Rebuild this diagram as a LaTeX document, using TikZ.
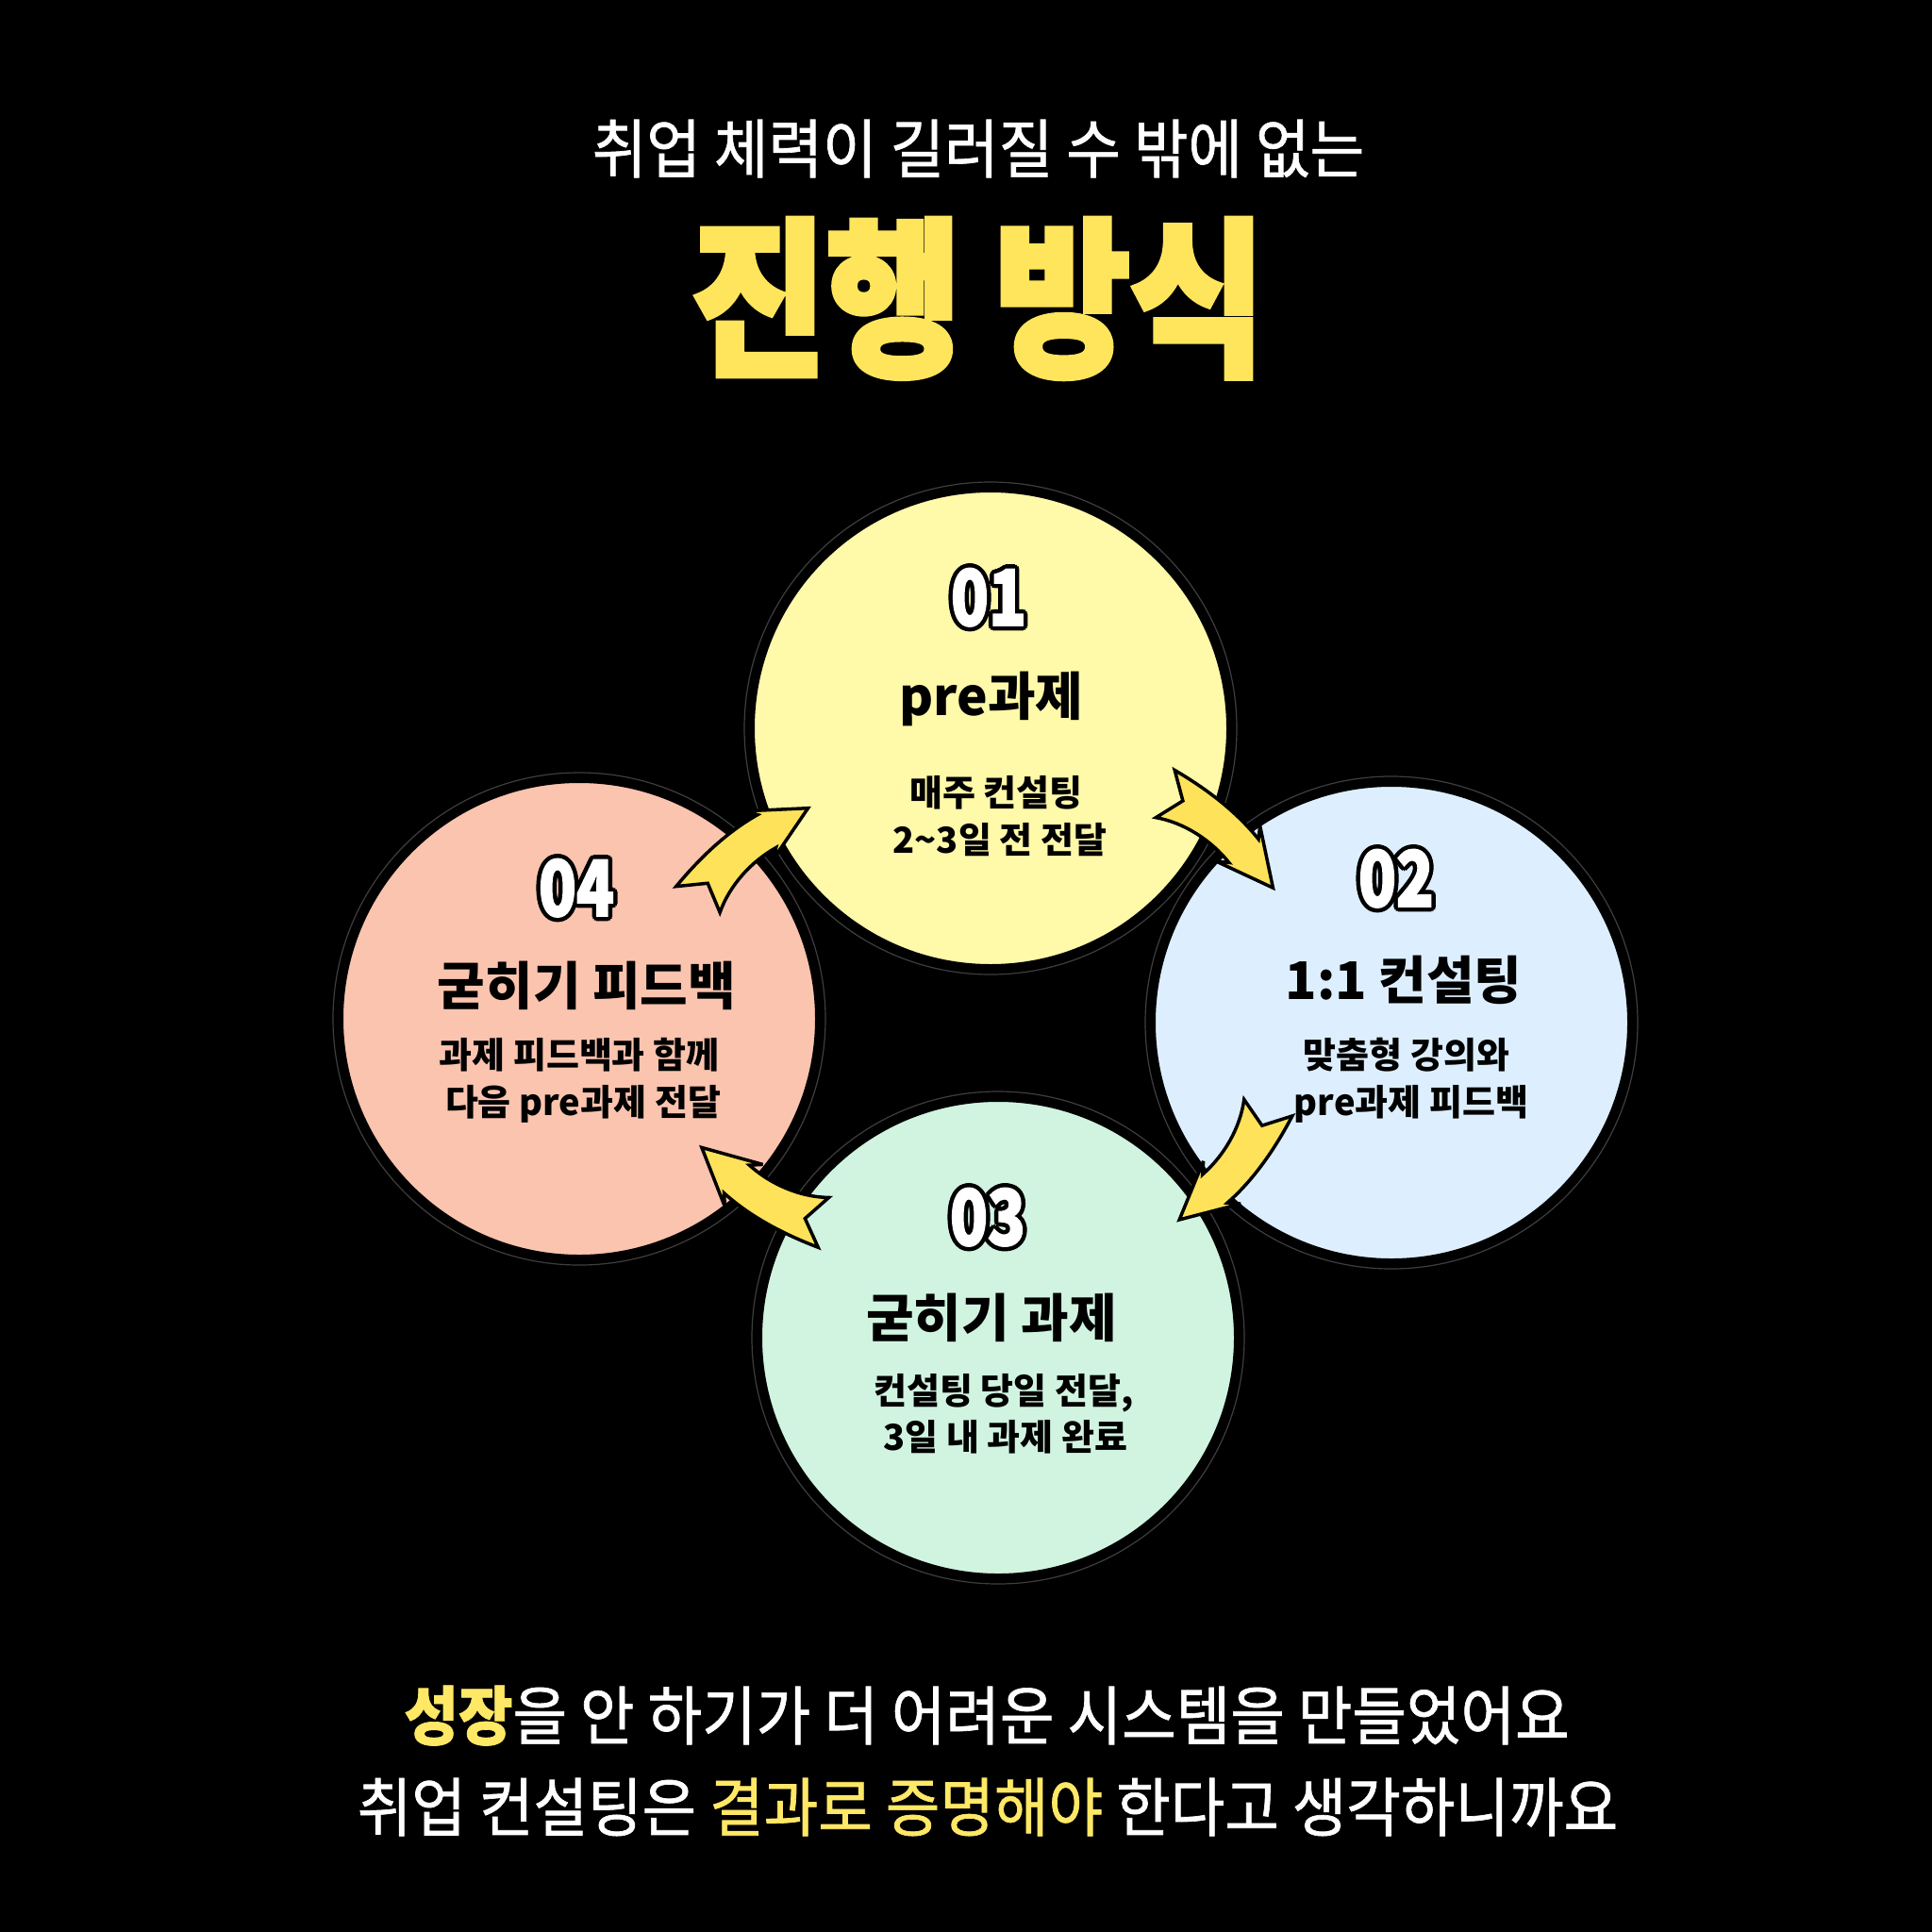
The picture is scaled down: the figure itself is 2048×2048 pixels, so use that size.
\documentclass[tikz,border=0pt]{standalone}
\usepackage{fontspec}
\usetikzlibrary{calc}
\newfontfamily\krreg{Noto Sans CJK KR}[FakeStretch=0.92, FakeBold=1]
\newfontfamily\krb{Noto Sans CJK KR}
\newfontfamily\krtitle{Noto Sans CJK KR}[FakeStretch=0.86, BoldFeatures={FakeBold=3}]
\newfontfamily\krnum{Noto Sans CJK KR}[FakeStretch=0.8, BoldFeatures={FakeBold=2}]
\definecolor{titley}{HTML}{FFE55C}
\definecolor{hly}{HTML}{FFE866}
\definecolor{arrowy}{HTML}{FDE25A}
\definecolor{cyel}{HTML}{FFF9AA}
\definecolor{cblu}{HTML}{DDEFFE}
\definecolor{cgrn}{HTML}{D1F4E1}
\definecolor{cpnk}{HTML}{FBC4AF}
\definecolor{ringgray}{RGB}{62,62,62}
\tikzset{
  circ/.style={circle, draw=black, line width=10, minimum size=510, inner sep=0},
  head/.style={anchor=base, inner sep=0, text=black, font=\krb\bfseries\fontsize{55}{66}\selectfont},
  body/.style={anchor=base, inner sep=0, text=black, font=\krb\bfseries\fontsize{38}{50}\selectfont},
  numsty/.style={anchor=base, inner sep=0, font=\krnum\bfseries\fontsize{82}{90}\selectfont},
  line/.style={anchor=base, inner sep=0, text=white, font=\krreg\fontsize{68}{80}\selectfont},
  arrowsty/.style={fill=arrowy, draw=black, line width=3.5, line join=miter, miter limit=6}
}
\newcommand\outnum[4]{%
  \foreach \a in {0,30,...,330}{\node[numsty, text=black] (#1o\a) at ($(#2,#3)+(\a:4.5)$) {#4};}
  \node[numsty, text=white] (#1) at (#2,#3) {#4};}
\newcommand\cyclearrow[4]{%
  \begin{scope}[shift={(#2,#3)}, rotate=#4]
    \coordinate (#1) at (0,0);
    \filldraw[arrowsty] (-4,-27) -- (16,0) -- (-4,27)
      .. controls (26,21) and (59.5,27.9) .. (85.5,42.9)
      -- (71.8,46.6) -- (138.8,50.6) -- (101.8,-5.4) -- (105.5,8.3)
      .. controls (73.4,-10.2) and (35,-21) .. (-4,-27) -- cycle;
  \end{scope}}
\begin{document}
\begin{tikzpicture}[x=1pt,y=-1pt]
\useasboundingbox (0,0) rectangle (2048,2048);
\fill[black] (0,0) rectangle (2048,2048);

% headings
\node[line] (sub) at (1037,183) {취업 체력이 길러질 수 밖에 없는};
\node[anchor=base, inner sep=0, text=titley, font=\krtitle\bfseries\fontsize{181}{200}\selectfont] (title) at (1037,384) {진행 방식};

% circles
\node[circ, fill=cyel] (c1) at (1050,772) {};
\node[circ, fill=cblu] (c2) at (1475,1084) {};
\node[circ, fill=cgrn] (c3) at (1058,1418) {};
\node[circ, fill=cpnk] (c4) at (614,1080) {};
\foreach \c in {c1,c2,c3,c4} \draw[ringgray, line width=1.2] (\c.center) circle[radius=261];

% circle 1
\outnum{n1}{1048}{663}{01}
\node[head] (h1) at (1051,758) {pre과제};
\node[body] (s1a) at (1056,854) {매주 컨설팅};
\node[body] (s1b) at (1060,904) {2\textasciitilde3일 전 전달};

% circle 2
\outnum{n2}{1480}{961}{02}
\node[head] (h2) at (1488,1059) {1:1 컨설팅};
\node[body] (s2a) at (1491,1132) {맞춤형 강의와};
\node[body] (s2b) at (1496,1182) {pre과제 피드백};

% circle 3
\outnum{n3}{1047}{1320}{03}
\node[head] (h3) at (1051,1417) {굳히기 과제};
\node[body] (s3a) at (1064,1488) {컨설팅 당일 전달,};
\node[body] (s3b) at (1066,1537) {3일 내 과제 완료};

% circle 4
\outnum{n4}{611}{971}{04}
\node[head] (h4) at (622,1065) {굳히기 피드백};
\node[body] (s4a) at (614,1132) {과제 피드백과 함께};
\node[body] (s4b) at (618,1182) {다음 pre과제 전달};

% cycle arrows
\cyclearrow{a41}{742}{950}{59.2}
\cyclearrow{a12}{1239}{843}{-21.6}
\cyclearrow{a23}{1343}{1178}{-108.9}
\cyclearrow{a34}{869}{1295}{167.9}

% bottom text
\node[line] (b1) at (1046,1844) {{\color{hly}\bfseries 성장}을 안 하기가 더 어려운 시스템을 만들었어요};
\node[line] (b2) at (1047,1941) {취업 컨설팅은 {\color{hly}결과로 증명해야} 한다고 생각하니까요};
\end{tikzpicture}
\end{document}
